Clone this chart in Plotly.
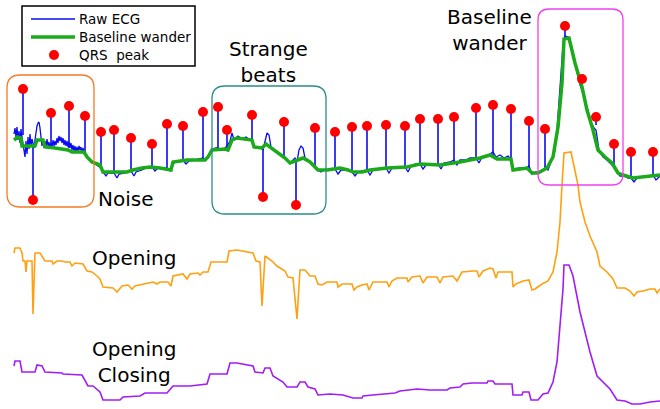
import plotly.graph_objects as go

# ---------------- data (time index, amplitude in picture units, y grows downward) -------------
raw_x = [14,15,16,17,18,19,20,21,22,24,25,26,27,28,29,30,31,32,34,35,36,37,38,39,40,41,
         42,43,44,45,46,47,48,49,50,51,52,53,54,55,56,57,58,59,60,61,62,63,64,65,66,67,68,69,70,71,72,73,74,75,76,77,78,79,80,81,82,83,84,86,88,90,92,95,98,
         101,103,106,108,111,114,117,119,124,128,131,134,136,142,146,150,152,155,158,163,167,170,172,174,178,183,186,189,195,200,203,206,208,210,212,216,218,220,224,227,230,232,234,238,242,246,250,252,254,258,261,
         263,265,267,269,271,274,278,282,284,286,290,293,295,297,299,301,303,305,308,312,315,318,321,324,328,335,338,341,348,352,355,358,363,367,370,373,380,386,389,392,398,405,408,411,416,420,423,426,434,438,441,444,450,454,457,460,466,470,476,479,482,487,490,493,496,500,504,508,511,513,520,526,529,532,536,540,545,548,551,555,557,559,561,563,565,568,571,574,577,580,582,585,588,591,594,596,599,603,607,611,614,617,620,624,628,631,634,637,642,648,653,656,660]
raw_y = [134,128,137,127,140,131,143,129,137,148,157,141,154,137,149,134,146,139,148,140,131,126,123,122,128,138,
         146,140,148,141,147,139,146,142,149,143,147,140,146,141,145,138,143,136,141,137,143,138,145,140,146,141,147,142,148,143,150,145,151,146,152,147,151,146,150,147,153,148,151,154,157,161,163,164,166,
         168,172,176,173,173,173,178,174,173,172,171,176,172,170,168,168,167,171,168,168,168,171,166,163,161,160,164,161,160,159,158,160,156,152,149,148,148,150,149,146,141,133,140,136,139,137,140,140,147,148,148,
         150,142,133,135,147,150,152,155,156,159,163,160,158,162,150,146,148,158,160,164,166,170,172,170,170,169,174,170,170,172,176,172,171,170,175,170,169,168,173,168,167,167,172,166,164,164,169,165,165,164,169,163,162,160,165,160,160,158,158,163,157,156,154,152,157,155,158,156,159,169,168,168,166,174,172,172,168,170,162,150,130,100,70,45,36,37,45,60,72,85,90,100,112,122,128,130,150,157,160,164,167,172,176,176,178,178,182,178,177,176,175,180,176]

base_x = [14,18,21,22,35,37,43,45,55,68,72,84,87,92,100,103,127,133,142,150,160,171,173,187,205,208,212,225,228,232,237,252,254,262,266,270,280,285,290,298,303,310,315,318,327,340,348,353,362,370,387,407,420,440,460,480,490,497,511,513,527,532,538,547,553,558,562,564,569,575,582,587,593,598,605,612,618,623,633,647,660]
base_y = [140,137,138,146,146,140,140,147,148,150,152,152,157,162,165,172,172,170,168,167,168,170,162,160,160,157,150,149,150,140,138,140,147,148,144,147,154,158,163,160,158,162,167,170,170,168,170,172,172,170,168,167,164,165,162,158,155,159,159,170,168,173,173,168,157,127,83,39,38,63,87,110,130,150,157,163,173,175,178,176,175]

qrs_x = [23,33,51,69,85,101,114,131,152,167,183,203,218,227,252,263,284,296,315,335,352,367,386,405,420,438,454,476,493,511,529,545,565,582,596,614,631,653]
qrs_y = [89,200,113,106,116,132,130,138,144,124,126,112,107,130,115,197,122,205,128,132,127,126,125,126,119,119,117,108,105,109,121,129,26,79,117,144,152,152]
qrs_base = [135,145,147,148,152,168,172,170,167,168,160,160,148,148,140,148,156,162,166,168,172,170,168,167,164,165,162,158,156,159,168,170,40,87,125,165,177,176]

open_x = [14,15,20,22,23,25,26,27,32,33,35,40,45,52,53,57,62,65,70,72,75,83,87,92,97,100,103,113,117,122,128,132,135,143,153,157,160,168,171,173,183,187,190,198,200,203,208,211,227,229,237,253,256,260,262,265,272,277,285,288,293,297,300,305,310,315,318,322,327,337,338,342,352,354,357,362,367,369,373,387,389,392,397,407,408,412,420,423,427,437,440,443,453,457,462,473,477,479,483,490,493,496,498,512,513,516,523,529,532,535,542,548,553,557,560,562,564,571,574,578,580,585,590,597,600,607,613,617,625,630,634,637,643,650,655,657,660]
open_y = [253,248,248,253,261,261,272,261,261,314,253,253,261,261,264,261,261,262,262,266,263,264,271,272,276,279,287,288,292,286,285,289,286,284,282,284,282,282,286,276,274,279,274,273,275,272,272,262,262,251,250,253,261,262,306,256,261,266,271,277,278,319,270,270,276,276,284,285,282,282,287,284,284,290,287,285,284,290,282,282,287,281,278,278,282,277,276,283,277,277,283,277,276,281,272,271,271,277,271,268,269,278,272,272,287,284,281,280,290,289,284,281,272,252,222,185,153,152,165,185,202,222,236,252,266,272,279,288,288,291,296,292,291,289,289,293,289]

oc_x = [14,15,20,22,35,37,42,45,62,63,82,86,88,93,97,100,103,120,123,140,145,167,173,190,207,210,227,230,237,253,255,263,265,270,273,283,287,297,300,305,308,315,318,330,343,353,362,363,373,382,395,400,410,417,430,447,450,460,463,472,487,488,493,495,512,513,522,523,529,531,538,543,548,553,557,560,563,564,569,573,577,580,585,590,597,603,610,617,625,632,640,650,660]
oc_y = [366,361,361,372,372,365,366,372,373,374,375,382,386,386,389,392,400,400,397,396,393,393,386,386,384,374,374,363,363,366,372,373,368,368,376,382,387,387,382,382,387,389,395,394,395,398,398,396,395,394,393,391,390,389,390,390,388,387,384,383,383,381,381,384,384,395,395,392,392,400,400,394,393,382,362,329,289,265,265,276,296,312,332,352,376,382,389,400,401,404,404,402,401]

legend_labels = ["Raw ECG", "Baseline wander", "QRS\u00a0 peak"]
region_labels = ["Noise", "Strange<br>beats", "Baseline<br>wander", "Opening", "Opening<br>Closing"]

FONT = "DejaVu Sans"
BLUE, GREEN, RED = "#0a0af0", "#1aaa1a", "#ff0000"
fig = go.Figure()

# spikes (part of raw ECG)
sx, sy = [], []
for px, pb, pp in zip(qrs_x, qrs_base, qrs_y):
    sx += [px, px, None]
    sy += [pb, pp, None]
fig.add_trace(go.Scatter(x=sx, y=sy, mode="lines", line=dict(color=BLUE, width=1.6),
                         showlegend=False, hoverinfo="skip"))
fig.add_trace(go.Scatter(x=raw_x, y=raw_y, mode="lines", name=legend_labels[0],
                         line=dict(color=BLUE, width=1.3), showlegend=False))
fig.add_trace(go.Scatter(x=base_x, y=base_y, mode="lines", name=legend_labels[1],
                         line=dict(color=GREEN, width=3.5), showlegend=False))
fig.add_trace(go.Scatter(x=qrs_x, y=qrs_y, mode="markers", name=legend_labels[2],
                         marker=dict(color=RED, size=10), showlegend=False))
fig.add_trace(go.Scatter(x=open_x, y=open_y, mode="lines", showlegend=False,
                         line=dict(color="#ffa010", width=1.6)))
fig.add_trace(go.Scatter(x=oc_x, y=oc_y, mode="lines", showlegend=False,
                         line=dict(color="#a21cf5", width=1.6)))


def rrect(x0, y0, x1, y1, r):
    return (f"M {x0+r},{y0} L {x1-r},{y0} Q {x1},{y0} {x1},{y0+r} L {x1},{y1-r} "
            f"Q {x1},{y1} {x1-r},{y1} L {x0+r},{y1} Q {x0},{y1} {x0},{y1-r} "
            f"L {x0},{y0+r} Q {x0},{y0} {x0+r},{y0} Z")

shapes = [
    dict(type="path", path=rrect(7, 75, 94, 207, 13), line=dict(color="#f47a24", width=1.3)),
    dict(type="path", path=rrect(212, 86, 326, 214, 13), line=dict(color="#2b8c8c", width=1.3)),
    dict(type="path", path=rrect(538, 9, 623, 185, 11), line=dict(color="#f040f0", width=1.3)),
    # legend box and symbols
    dict(type="rect", x0=22, x1=195, y0=6, y1=66, line=dict(color="black", width=1.5),
         fillcolor="white", layer="above"),
    dict(type="line", x0=31, x1=75, y0=19, y1=19, line=dict(color=BLUE, width=1.3), layer="above"),
    dict(type="line", x0=31, x1=75, y0=37, y1=37, line=dict(color=GREEN, width=3.5), layer="above"),
    dict(type="circle", x0=49, x1=59, y0=50, y1=60, line=dict(width=0), fillcolor=RED, layer="above"),
]

ann_pos = [(125, 199), (268, 62), (489, 30), (134, 258), (134, 362)]
annotations = [dict(x=x, y=y, text=t, showarrow=False, xanchor="center", yanchor="middle",
                    font=dict(family=FONT, size=20, color="black"))
               for (x, y), t in zip(ann_pos, region_labels)]
for t, yy in zip(legend_labels, [19, 37, 55]):
    annotations.append(dict(x=79, y=yy, text=t, showarrow=False, xanchor="left", yanchor="middle",
                            xshift=-2, font=dict(family=FONT, size=13.5, color="black")))

fig.update_layout(
    width=660, height=409, margin=dict(l=0, r=0, t=0, b=0),
    paper_bgcolor="white", plot_bgcolor="white",
    xaxis=dict(range=[0, 660], visible=False, fixedrange=True),
    yaxis=dict(range=[409, 0], visible=False, fixedrange=True),
    shapes=shapes, annotations=annotations,
    showlegend=False,
)

fig.write_html("out.html", config={"displayModeBar": False},
               post_script="document.body.style.margin='0';document.documentElement.style.margin='0';")
